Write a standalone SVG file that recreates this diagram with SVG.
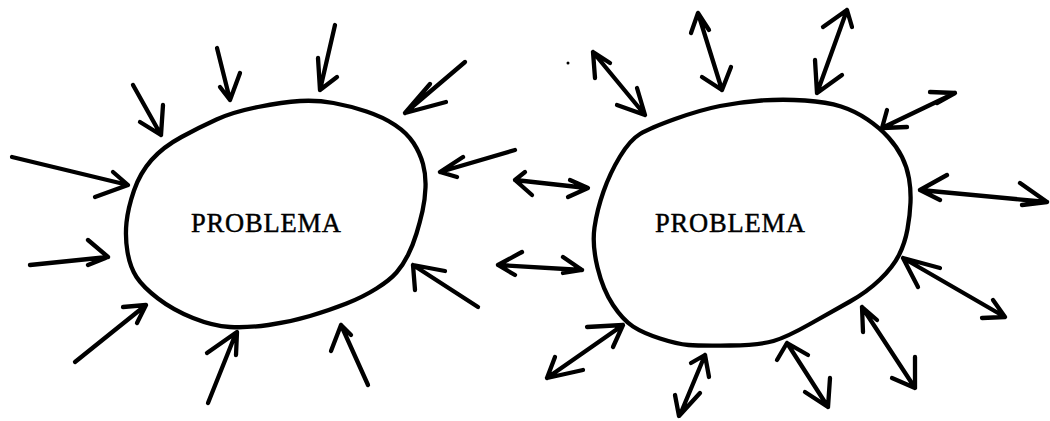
<svg xmlns="http://www.w3.org/2000/svg" width="1050" height="421" viewBox="0 0 1050 421">
<style>
.blob{fill:none;stroke:#000;stroke-width:4.3;stroke-linejoin:round}
.a{fill:none;stroke:#000;stroke-width:4.3;stroke-linecap:round;stroke-linejoin:round}
.t{font-family:"Liberation Serif","Times New Roman",serif;font-size:26.5px;fill:#000;stroke:#000;stroke-width:0.45;stroke-linejoin:round}
</style>
<rect width="1050" height="421" fill="#fff"/>
<g id="problema-left">
<path class="blob" d="M181.5,137 Q200,127 216.5,119.5 Q233,112 258,107 Q283,102 300,101 Q317,100 333.5,103 Q350,106 366.5,111.5 Q383,117 395,125 Q407,133 413.5,143 Q420,153 423,164 Q426,175 425.5,187.5 Q425,200 422.5,211 Q420,222 416.5,233.5 Q413,245 408,255 Q403,265 396.5,272.5 Q390,280 376.5,288.5 Q363,297 346.5,303.5 Q330,310 310,316 Q290,322 268.5,325 Q247,328 230,327 Q213,326 193,318 Q173,310 158,298.5 Q143,287 136.5,277 Q130,267 127.5,252 Q125,237 126.5,222.5 Q128,208 134,190.5 Q140,173 151.5,160 Q163,147 181.5,137 Z"/>
<text class="t" x="191" y="232" textLength="150" lengthAdjust="spacing">PROBLEMA</text>
</g>
<g id="problema-right">
<path class="blob" d="M640,134 Q650,128 675,119 Q700,110 720,106 Q740,102 761.5,100.5 Q783,99 805,100.5 Q827,102 841,106.5 Q855,111 867.5,119.5 Q880,128 888.5,137.5 Q897,147 902,157 Q907,167 909,178.5 Q911,190 910.5,202.5 Q910,215 907.5,229 Q905,243 899,255 Q893,267 880,279.5 Q867,292 850,301.5 Q833,311 810,324 Q787,337 773.5,341 Q760,345 730,345.5 Q700,346 688.5,345 Q677,344 660,338.5 Q643,333 633,326.5 Q623,320 613,305 Q603,290 597.5,267.5 Q592,245 594.5,227.5 Q597,210 603.5,191.5 Q610,173 620,156.5 Q630,140 640,134 Z"/>
<text class="t" x="655" y="232" textLength="150" lengthAdjust="spacing">PROBLEMA</text>
</g>
<g id="connectors">
<g id="inward">
<path class="a" d="M12,157 L128,185 M113,172 L128,185 L95,197"/>
<path class="a" d="M133,85 L161,135 M140,122 L161,135 L163,105"/>
<path class="a" d="M217,48 L230,100 M220,87 L230,100 L240,73"/>
<path class="a" d="M335,25 L320,90 M318,58 L320,90 L337,77"/>
<path class="a" d="M465,62 L405,113 M430,84 L405,113 L446,102"/>
<path class="a" d="M515,150 L440,172 M463,157 L440,172 L457,177"/>
<path class="a" d="M478,307 L413,265 M445,271 L413,265 L415,290"/>
<path class="a" d="M368,385 L341,325 M331,351 L341,325 L351,335"/>
<path class="a" d="M208,403 L236,333 M207,353 L237,332 L236,355"/>
<path class="a" d="M75,362 L146,305 M123,307 L146,305 L137,323"/>
<path class="a" d="M30,265 L108,257 M88,240 L108,257 L88,265"/>
</g>
<g id="bidirectional">
<path class="a" d="M515,180 L587,188 M525,172 L515,180 L532,195 M570,180 L588,188 L568,197"/>
<path class="a" d="M498,265 L582,270 M522,252 L498,265 L515,275 M563,257 L582,270 L563,273"/>
<path class="a" d="M593,52 L645,115 M595,78 L593,52 L610,63 M617,105 L645,115 L637,88"/>
<path class="a" d="M698,13 L722,90 M691,33 L698,13 L709,30 M702,77 L722,90 L731,67"/>
<path class="a" d="M847,10 L817,93 M823,27 L847,10 L852,27 M815,60 L817,93 L842,75"/>
<path class="a" d="M955,93 L882,128 M930,92 L955,93 L937,103 M887,110 L882,128 L907,127"/>
<path class="a" d="M920,190 L1047,202 M947,175 L920,190 L940,200 M1020,183 L1047,202 L1022,205"/>
<path class="a" d="M903,258 L1005,317 M940,268 L903,258 L918,287 M993,300 L1005,317 L982,318"/>
<path class="a" d="M862,307 L915,388 M877,320 L862,307 L863,332 M915,357 L915,388 L892,378"/>
<path class="a" d="M787,343 L828,407 M777,360 L787,343 L808,355 M830,378 L828,407 L805,392"/>
<path class="a" d="M705,355 L680,415 M691,363 L705,355 L709,377 M675,395 L679,416 L700,393"/>
<path class="a" d="M623,325 L547,378 M587,327 L623,325 L613,347 M555,357 L547,378 L583,370"/>
</g>
</g>
<circle cx="568" cy="63" r="1.5" fill="#000"/>
</svg>
